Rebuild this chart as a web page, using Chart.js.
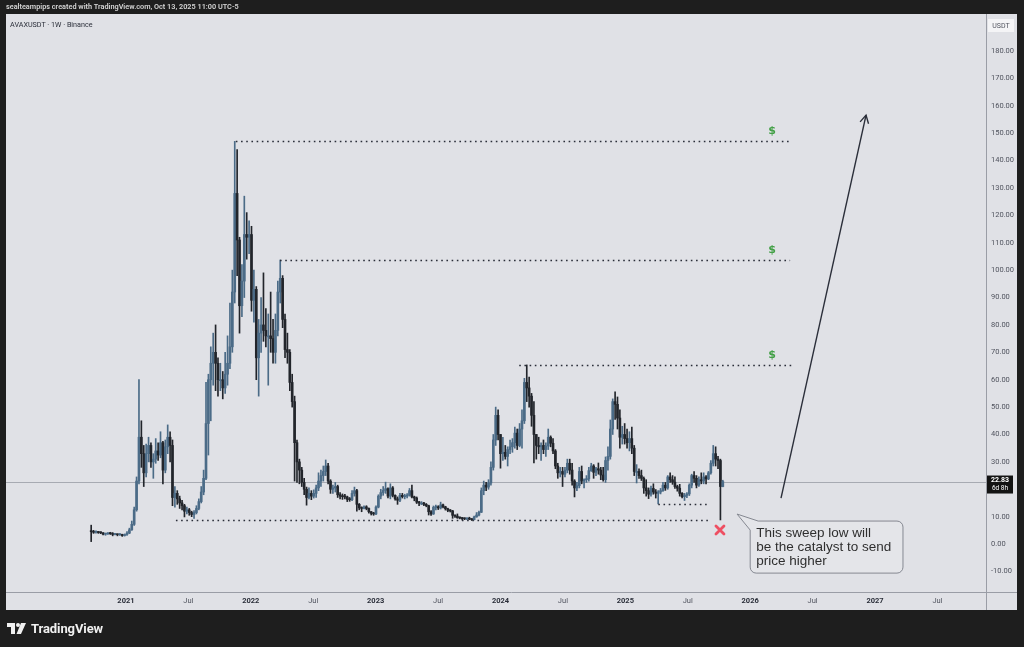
<!DOCTYPE html>
<html>
<head>
<meta charset="utf-8">
<title>AVAXUSDT 1W</title>
<script src="https://cdn.jsdelivr.net/npm/chart.js@4.4.1/dist/chart.umd.min.js"></script>
<style>
  html, body { margin: 0; padding: 0; background: #1e1e1e; }
  #wrap { position: relative; width: 1024px; height: 647px; overflow: hidden; }
  #wrap canvas { position: absolute; left: 0; top: 0; }
  .hdr { position: absolute; left: 6px; top: 2px; z-index: 2; font: 600 7.3px Roboto, sans-serif; color: #d6d6d6; white-space: nowrap; }
  .sym { position: absolute; left: 10px; top: 20px; z-index: 2; font: 7.2px Roboto, sans-serif; color: #2a2e39; white-space: nowrap; }
  .logo { position: absolute; left: 7px; top: 621px; z-index: 2; display: flex; align-items: center; gap: 5px; }
  .logo span { font: bold 13px Roboto, sans-serif; color: #f0f0f0; letter-spacing: -0.1px; }
</style>
</head>
<body>
<div id="wrap">
  <canvas id="chart" width="1024" height="647"></canvas>
  <div class="hdr">sealteampips created with TradingView.com, Oct 13, 2025 11:00 UTC-5</div>
  <div class="sym">AVAXUSDT · 1W · Binance</div>
  <div class="logo">
    <svg width="19" height="11" viewBox="0 0 19 11">
      <path d="M0 0h8v11h-4v-7h-4z" fill="#f0f0f0"/>
      <circle cx="11" cy="2" r="2" fill="#f0f0f0"/>
      <path d="M14 0h5l-5 11h-4.5z" fill="#f0f0f0"/>
    </svg>
    <span>TradingView</span>
  </div>
</div>
<script>
// weekly candles, Binance AVAXUSDT, one entry per week starting FIRST_WEEK
// open of each week is the previous week's close (24/7 market)
const FIRST_WEEK = "2020-09-21";
const FIRST_OPEN = 4.9;

const CLOSE = [
  // 2020
  4.5, 4.3, 4.4, 4.2, 4.1, 3.6, 3.7, 3.9, 3.8, 3.5, 3.6, 3.4, 3.5, 3.1, 3.5,
  // 2021
  4.0, 5.2, 7.2, 12.5, 23.0, 39.0, 33.0, 26.0, 33.0, 36.0,
  30.0, 31.0, 34.0, 32.5, 37.0, 27.0, 35.5, 39.0, 36.0, 17.0,
  18.5, 16.5, 15.0, 14.0, 12.0, 12.5, 11.5, 10.8, 11.5, 13.0,
  15.5, 19.0, 24.0, 44.0, 60.0, 66.0, 70.0, 66.0, 60.0, 60.0,
  57.0, 62.0, 66.0, 72.0, 92.0, 128.0, 111.0, 87.0, 96.0, 113.0,
  112.0, 113.0,
  // 2022
  89, 93, 68, 77, 80, 78, 76, 76, 75, 70,
  78, 92, 97, 82, 71, 70, 59, 52, 37, 30,
  27, 22.5, 20, 17, 18.5, 17.5, 18.5, 20.5, 23, 25,
  26.5, 28.5, 23, 20, 20.5, 21, 18, 17.5, 17.3, 17.2,
  16.3, 16.2, 18.5, 19.5, 14.5, 13.2, 13.0, 13.6, 13.0, 11.8,
  11.2, 11.0,
  // 2023
  13.5, 17.5, 18.8, 19.6, 20.2, 17.5, 20.5, 17.8, 16.5, 16.0,
  17.8, 17.3, 17.5, 17.8, 19.5, 17.2, 16.8, 15.3, 15.0, 15.0,
  14.5, 14.0, 11.8, 11.0, 13.4, 13.6, 13.2, 14.3, 13.6, 12.9,
  12.3, 12.1, 10.5, 10.2, 9.6, 9.5, 9.3, 9.2, 9.3, 9.1,
  8.9, 9.9, 10.6, 11.6, 19.5, 21.5, 20.8, 22.3, 28.0, 38.0,
  47.0, 40.0,
  // 2024
  33, 33.5, 32, 34.5, 35.5, 37, 40.5, 36, 42, 45,
  59, 57, 54, 47, 40, 36, 35.5, 36, 34.5, 35.8,
  39, 36.8, 34, 28.5, 26, 26.5, 25.5, 27, 29.5, 27,
  23, 20.5, 21.3, 26.5, 23, 23.5, 23.8, 26.8, 28.5, 26.2,
  27.5, 27, 25.2, 23.5, 30.5, 32, 42, 52, 51, 46,
  39, 40, 38.5,
  // 2025
  37, 38.5, 35, 26.5, 26.5, 25, 24, 20.5, 19.5, 18.2,
  20.3, 19, 18.5, 19, 19.5, 21.5, 20.5, 24.5, 23.5, 22.6,
  21, 20.4, 18.5, 17.3, 17.8, 18.3, 21.5, 25, 24, 21.5,
  23.5, 23, 24.5, 23.8, 26, 29.5, 33, 31, 30.5, 21,
  22.83
];

const HIGH = [
  // 2020
  6.9, 5.0, 4.8, 4.6, 4.5, 4.2, 4.0, 4.2, 4.3, 4.2, 3.9, 3.7, 3.8, 3.6, 3.7,
  // 2021
  4.6, 5.8, 8.4, 13.5, 24.5, 60.0, 45.0, 36.0, 36.5, 39.0,
  37.0, 33.0, 38.5, 37.0, 41.0, 37.5, 38.0, 43.5, 41.0, 38.0,
  21.0, 19.5, 17.5, 16.0, 14.5, 13.5, 13.0, 12.0, 12.2, 14.0,
  16.5, 21.0, 27.0, 59.0, 62.0, 72.0, 77.0, 80.0, 68.0, 66.0,
  63.0, 70.0, 76.0, 88.0, 100.0, 147.0, 144.0, 112.0, 102.0, 127.0,
  121.0, 118.0,
  // 2022
  116, 100, 94, 82, 90, 99, 86, 84, 92, 82,
  84, 96, 103.7, 98, 84, 77, 71, 62, 54, 38,
  31, 28, 24, 20.8, 20.5, 19.5, 19.8, 21.5, 26, 27,
  28.5, 30.7, 29.5, 23.5, 21.5, 22.5, 21.5, 18.8, 18.3, 18.2,
  17.5, 17.0, 19.5, 20.8, 20, 14.8, 13.6, 14.0, 14.0, 13.2,
  11.9, 11.6,
  // 2023
  14.0, 18.0, 20.0, 21.0, 22.6, 20.5, 22.0, 21.0, 18.0, 17.2,
  18.5, 18.5, 18.2, 18.4, 20.3, 21.5, 17.5, 17.2, 15.6, 15.5,
  15.2, 14.8, 14.2, 12.2, 13.9, 14.2, 14.0, 15.3, 14.6, 13.8,
  13.1, 12.6, 12.3, 10.7, 11.0, 9.9, 9.7, 9.6, 9.6, 9.8,
  9.3, 10.2, 11.5, 12.0, 20.5, 23.0, 22.5, 23.5, 30.0, 40.0,
  50.0, 49.0,
  // 2024
  40, 39, 36, 35.5, 38, 38.5, 42.7, 42, 44, 49,
  60.5, 65.4, 61, 55, 52, 40, 39, 37, 38, 37,
  42, 39.5, 38.5, 34.5, 29.5, 28, 28, 28, 31, 31,
  29.5, 23.5, 22.5, 28, 28.5, 23.8, 25, 28, 29.5, 29,
  28, 29.6, 28, 28, 31.8, 35.5, 45.3, 53, 55.6, 53.7,
  49, 43, 44,
  // 2025
  42, 41, 42.7, 36, 29, 27.5, 27, 24.5, 23.5, 20.5,
  21.2, 22, 19.9, 19.5, 20.3, 22.5, 22.5, 25, 26, 25,
  24.5, 21.5, 21.8, 18.8, 18.5, 18.8, 22, 25.5, 26.5, 25,
  24.5, 26, 26, 25, 26.5, 30.5, 36, 35.5, 32, 31,
  23.3
];

const LOW = [
  // 2020
  0.9, 3.9, 4.0, 3.9, 3.8, 3.3, 3.2, 3.5, 3.5, 3.0, 3.3, 3.0, 3.2, 2.8, 2.9,
  // 2021
  3.2, 3.8, 5.0, 6.8, 12.0, 22.0, 28.0, 21.0, 24.5, 30.0,
  28.0, 24.0, 29.5, 30.5, 31.5, 22.0, 26.0, 33.0, 30.0, 14.0,
  13.5, 14.5, 13.0, 12.5, 9.9, 11.0, 10.5, 10.0, 9.4, 11.0,
  12.5, 15.0, 18.0, 23.5, 32.5, 45.0, 58.0, 56.0, 54.0, 56.0,
  53.0, 55.0, 58.0, 64.0, 70.0, 88.0, 98.0, 77.0, 83.0, 90.0,
  104.0, 106.0,
  // 2022
  85, 81, 60, 54, 70, 74, 72, 58, 70, 66,
  66, 76, 88, 79, 68, 66, 56, 50, 23, 22.5,
  22, 21, 18, 14.2, 16.5, 16.2, 16.8, 17.0, 19.5, 21,
  23, 25, 22, 18.5, 18.5, 19, 17, 16.5, 16.3, 16.5,
  15.5, 15.6, 15.8, 17.5, 12, 12.5, 11.8, 12.8, 12.5, 11.3,
  10.6, 10.5,
  // 2023
  10.7, 13.2, 16.5, 17.8, 18.5, 16.8, 16.5, 17.2, 16.0, 14.5,
  15.5, 16.8, 16.5, 16.8, 17.5, 16.8, 15.8, 14.8, 14.0, 14.4,
  14.0, 13.6, 10.6, 10.5, 10.8, 12.5, 12.6, 12.8, 13.2, 12.4,
  11.8, 11.7, 9.4, 9.7, 9.4, 9.2, 8.8, 8.9, 8.9, 8.9,
  8.6, 8.8, 9.8, 10.3, 11.5, 18.0, 19.5, 20.0, 21.5, 27.0,
  36.0, 38.0,
  // 2024
  27.7, 30.5, 31, 28.5, 33, 33.5, 35, 34.5, 35.5, 35,
  44, 52, 50, 43, 29.6, 31, 33, 30.5, 33, 32,
  34.5, 35.5, 33, 27.5, 24, 24.5, 21, 24.5, 26, 25.5,
  21.5, 17.2, 19.5, 20.5, 22, 20.5, 22.5, 23, 26.5, 24,
  25, 25.5, 23.5, 23, 22.5, 27, 31, 40, 45.5, 42,
  35, 36.5, 36.5,
  // 2025
  35, 34, 33, 25, 22.3, 24, 23.2, 18.5, 17.5, 16.6,
  17.5, 18.2, 16.8, 14.66, 18.3, 19.2, 19.6, 20, 22.5, 21.8,
  20.3, 19.3, 17.5, 16.8, 15.9, 16.9, 17.7, 20.5, 22.5, 20.5,
  21, 22, 22, 22, 23.5, 25.5, 28.5, 28.5, 27.5, 8.8,
  20.9
];

const LAST_PRICE = 22.83;
const LAST_PRICE_TIMER = "6d 8h";

const PRICE_TICKS = [-10, 0, 10, 20, 30, 40, 50, 60, 70, 80, 90, 100, 110, 120, 130, 140, 150, 160, 170, 180];
const TIME_TICKS = [2021, 2021.5, 2022, 2022.5, 2023, 2023.5, 2024, 2024.5, 2025, 2025.5, 2026, 2026.5, 2027, 2027.5];
const TIME_LABELS = ["2021", "Jul", "2022", "Jul", "2023", "Jul", "2024", "Jul", "2025", "Jul", "2026", "Jul", "2027", "Jul"];

// drawn levels: price, start and end time (decimal years)
const LEVEL_PRICE = [147.0, 103.7, 65.4, 8.8, 14.66];
const LEVEL_FROM = [2021.88, 2022.234, 2024.15, 2021.40, 2025.264];
const LEVEL_TO = [2026.32, 2026.32, 2026.34, 2025.665, 2025.665];
const TARGET_LEVELS = [0, 1, 2];
const TARGET_TIME = 2026.167;

const ARROW_FROM = [2026.247, 16.8];
const ARROW_TO = [2026.928, 156.6];
const SWEEP_MARK = [2025.758, 5.1];
const NOTE_LINES = ["This sweep low will", "be the catalyst to send", "price higher"];
const NOTE_BOX = { from: 2026.0, to: 2027.224, top: 8.4, bottom: -10.6 };
const NOTE_TIP = [2025.895, 10.95];

const UP = "#4b6b87";
const DOWN = "#22252b";
const INK = "#2a2e39";

function toYear(ms) {
  const d = new Date(ms);
  const y = d.getUTCFullYear();
  const a = Date.UTC(y, 0, 1), b = Date.UTC(y + 1, 0, 1);
  return y + (ms - a) / (b - a);
}

const start = Date.parse(FIRST_WEEK + "T00:00:00Z");
const weekT = CLOSE.map((_, i) => toYear(start + i * 7 * 864e5));
const OPEN = CLOSE.map((_, i) => (i === 0 ? FIRST_OPEN : CLOSE[i - 1]));
const colors = CLOSE.map((c, i) => (c >= OPEN[i] ? UP : DOWN));

const overlay = {
  id: "overlay",
  beforeDraw(chart) {
    const { ctx } = chart;
    ctx.save();
    ctx.fillStyle = "#e0e1e6";
    ctx.fillRect(6, 14, 1011, 596);
    ctx.restore();
  },
  beforeDatasetsDraw(chart) {
    const { ctx, chartArea, scales } = chart;
    const y = Math.round(scales.y.getPixelForValue(LAST_PRICE)) + 0.5;
    ctx.save();
    ctx.strokeStyle = "#a7aab2";
    ctx.lineWidth = 1;
    ctx.beginPath();
    ctx.moveTo(chartArea.left, y);
    ctx.lineTo(chartArea.right, y);
    ctx.stroke();
    ctx.restore();
  },
  afterDatasetsDraw(chart) {
    const { ctx, scales } = chart;
    const X = (v) => scales.x.getPixelForValue(v);
    const Y = (v) => scales.y.getPixelForValue(v);
    ctx.save();

    // dotted levels
    ctx.strokeStyle = INK;
    ctx.lineWidth = 1.6;
    ctx.setLineDash([1.6, 3.6]);
    LEVEL_PRICE.forEach((p, i) => {
      const y = Math.round(Y(p)) + 0.5;
      ctx.beginPath();
      ctx.moveTo(X(LEVEL_FROM[i]), y);
      ctx.lineTo(X(LEVEL_TO[i]), y);
      ctx.stroke();
    });
    ctx.setLineDash([]);

    // targets
    ctx.fillStyle = "#43a047";
    ctx.font = "bold 11px 'DejaVu Sans', sans-serif";
    ctx.textAlign = "center";
    ctx.textBaseline = "alphabetic";
    TARGET_LEVELS.forEach((i) => {
      ctx.fillText("$", X(TARGET_TIME) + 1, Y(LEVEL_PRICE[i]) - 7);
    });

    // arrow
    const ax0 = X(ARROW_FROM[0]), ay0 = Y(ARROW_FROM[1]);
    const ax1 = X(ARROW_TO[0]), ay1 = Y(ARROW_TO[1]);
    ctx.strokeStyle = INK;
    ctx.lineWidth = 1.4;
    ctx.beginPath();
    ctx.moveTo(ax0, ay0);
    ctx.lineTo(ax1, ay1);
    ctx.stroke();
    const ang = Math.atan2(ay1 - ay0, ax1 - ax0);
    ctx.beginPath();
    ctx.moveTo(ax1 - 9 * Math.cos(ang - 0.5), ay1 - 9 * Math.sin(ang - 0.5));
    ctx.lineTo(ax1, ay1);
    ctx.lineTo(ax1 - 9 * Math.cos(ang + 0.5), ay1 - 9 * Math.sin(ang + 0.5));
    ctx.stroke();

    // sweep mark
    const mx = X(SWEEP_MARK[0]), my = Y(SWEEP_MARK[1]);
    ctx.strokeStyle = "#ee4f62";
    ctx.lineWidth = 2.8;
    ctx.lineCap = "round";
    ctx.beginPath();
    ctx.moveTo(mx - 4, my - 4); ctx.lineTo(mx + 4, my + 4);
    ctx.moveTo(mx + 4, my - 4); ctx.lineTo(mx - 4, my + 4);
    ctx.stroke();
    ctx.lineCap = "butt";

    // callout
    const l = X(NOTE_BOX.from), r = X(NOTE_BOX.to);
    const t = Y(NOTE_BOX.top), b = Y(NOTE_BOX.bottom);
    const rad = 6;
    ctx.beginPath();
    ctx.moveTo(l + rad + 2, t);
    ctx.lineTo(r - rad, t); ctx.arcTo(r, t, r, t + rad, rad);
    ctx.lineTo(r, b - rad); ctx.arcTo(r, b, r - rad, b, rad);
    ctx.lineTo(l + rad, b); ctx.arcTo(l, b, l, b - rad, rad);
    ctx.lineTo(l, t + rad + 3);
    ctx.lineTo(X(NOTE_TIP[0]), Y(NOTE_TIP[1]));
    ctx.closePath();
    ctx.fillStyle = "#e4e5e9";
    ctx.fill();
    ctx.strokeStyle = "#858891";
    ctx.lineWidth = 1;
    ctx.stroke();
    ctx.fillStyle = "#2f2f2f";
    ctx.font = "13.5px 'Liberation Sans', Arial, sans-serif";
    ctx.textAlign = "left";
    NOTE_LINES.forEach((s, i) => ctx.fillText(s, l + 6, t + 16 + i * 14.2));

    ctx.restore();
  },
  afterDraw(chart) {
    const { ctx, chartArea, scales } = chart;
    ctx.save();
    ctx.strokeStyle = "#9a9da6";
    ctx.lineWidth = 1;
    ctx.beginPath();
    ctx.moveTo(chartArea.right + 0.5, 14);
    ctx.lineTo(chartArea.right + 0.5, 610);
    ctx.moveTo(6, chartArea.bottom + 0.5);
    ctx.lineTo(1017, chartArea.bottom + 0.5);
    ctx.stroke();

    // last price tag
    const y = scales.y.getPixelForValue(LAST_PRICE);
    ctx.fillStyle = "#131313";
    ctx.fillRect(chartArea.right + 1, y - 6, 26, 18);
    ctx.fillStyle = "#ffffff";
    ctx.textAlign = "center";
    ctx.textBaseline = "middle";
    ctx.font = "bold 7px Roboto, sans-serif";
    ctx.fillText(LAST_PRICE.toFixed(2), chartArea.right + 14, y - 1);
    ctx.font = "6.5px Roboto, sans-serif";
    ctx.fillText(LAST_PRICE_TIMER, chartArea.right + 14, y + 7);

    // currency box
    ctx.fillStyle = "#f4f4f6";
    ctx.fillRect(chartArea.right + 2, 19, 26, 13);
    ctx.fillStyle = "#50535e";
    ctx.font = "7px Roboto, sans-serif";
    ctx.fillText("USDT", chartArea.right + 15, 26);
    ctx.restore();
  }
};

new Chart(document.getElementById("chart"), {
  type: "bar",
  data: {
    datasets: [
      {
        label: "body",
        data: CLOSE.map((c, i) => ({ x: weekT[i], y: [OPEN[i], c] })),
        backgroundColor: colors,
        barThickness: 2,
        minBarLength: 1,
        grouped: false,
        borderWidth: 0,
        order: 0
      },
      {
        label: "wick",
        data: CLOSE.map((c, i) => ({ x: weekT[i], y: [LOW[i], HIGH[i]] })),
        backgroundColor: colors,
        barThickness: 1,
        grouped: false,
        borderWidth: 0,
        order: 1
      }
    ]
  },
  options: {
    responsive: false,
    animation: false,
    devicePixelRatio: 1,
    layout: { padding: { left: 6, top: 14, right: 7, bottom: 37 } },
    plugins: { legend: { display: false }, tooltip: { enabled: false } },
    scales: {
      x: {
        type: "linear",
        min: 2020.039,
        max: 2027.889,
        offset: false,
        grid: { display: false, drawTicks: false },
        border: { display: false },
        afterBuildTicks(s) { s.ticks = TIME_TICKS.map((v) => ({ value: v })); },
        afterFit(s) { s.height = 18; },
        ticks: {
          autoSkip: false,
          maxRotation: 0,
          padding: 5,
          callback: (v, i) => TIME_LABELS[i],
          color: (c) => (TIME_LABELS[c.index] === "Jul" ? "#50535e" : "#2a2e39"),
          font: (c) => ({ family: "Roboto", size: 7.5, weight: TIME_LABELS[c.index] === "Jul" ? "normal" : "bold" })
        }
      },
      y: {
        type: "linear",
        position: "right",
        min: -17.5,
        max: 193.5,
        grid: { display: false, drawTicks: false },
        border: { display: false },
        afterBuildTicks(s) { s.ticks = PRICE_TICKS.map((v) => ({ value: v })); },
        afterFit(s) { s.width = 31; },
        ticks: {
          padding: 5,
          color: "#50535e",
          font: { family: "Roboto", size: 7.5 },
          callback: (v) => v.toFixed(2)
        }
      }
    }
  },
  plugins: [overlay]
});
</script>
</body>
</html>
